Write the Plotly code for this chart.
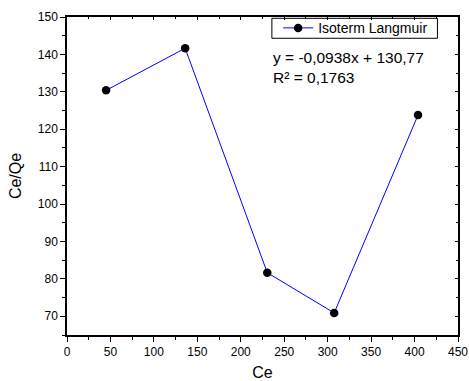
import plotly.graph_objects as go

ce = [45, 136, 230.5, 307.5, 404]
ce_qe = [130.4, 141.65, 81.65, 70.9, 123.8]
series_name = "Isoterm Langmuir"
eq_lines = ["y = -0,0938x + 130,77", "R² = 0,1763"]

fig = go.Figure()
fig.add_trace(go.Scatter(
    x=ce, y=ce_qe, mode="lines+markers", name=series_name,
    line=dict(color="#0000ff", width=1),
    marker=dict(color="black", size=8.5),
))
fig.add_trace(go.Scatter(x=[None], y=[None], xaxis="x2", yaxis="y2",
                         showlegend=False, hoverinfo="skip"))

font_family = "Liberation Sans, Arial, sans-serif"
axis_common = dict(showgrid=False, zeroline=False, showline=True,
                   linecolor="black", linewidth=1.5, ticks="outside",
                   ticklen=5, tickwidth=1, tickcolor="black", automargin=False,
                   tickfont=dict(family=font_family, size=12, color="black"))

fig.update_layout(
    width=469, height=381,
    margin=dict(l=67, r=11, t=17, b=46, autoexpand=False),
    paper_bgcolor="white", plot_bgcolor="white",
    font=dict(family=font_family, color="black"),
    xaxis=dict(range=[0, 450], dtick=50, tick0=0,
               minor=dict(dtick=25, ticks="outside", ticklen=3, tickcolor="black"),
               title=dict(text="Ce", font=dict(size=16), standoff=9),
               **axis_common),
    yaxis=dict(range=[65, 150], dtick=10, tick0=70,
               minor=dict(dtick=5, ticks="outside", ticklen=3, tickcolor="black"),
               title=dict(text="Ce/Qe", font=dict(size=16), standoff=12),
               **axis_common),
    xaxis2=dict(range=[0, 450], overlaying="x", side="top", showgrid=False,
                zeroline=False, showline=True, linecolor="black", linewidth=1.5,
                ticks="inside", ticklen=3, dtick=50, tickcolor="black",
                minor=dict(dtick=25, ticks="inside", ticklen=2, tickcolor="black"),
                showticklabels=False, automargin=False),
    yaxis2=dict(range=[65, 150], overlaying="y", side="right", showgrid=False,
                zeroline=False, showline=True, linecolor="black", linewidth=1.5,
                ticks="inside", ticklen=3, dtick=10, tick0=70, tickcolor="black",
                minor=dict(dtick=5, ticks="inside", ticklen=2, tickcolor="black"),
                showticklabels=False, automargin=False),
    legend=dict(x=0.54, y=0.9645, xanchor="left", yanchor="middle",
                borderwidth=0, bgcolor="rgba(0,0,0,0)",
                font=dict(family=font_family, size=14, color="black"),
                itemwidth=30, tracegroupgap=0),
    showlegend=True,
)

# legend frame (compact, like the original)
fig.add_shape(type="rect", xref="paper", yref="paper",
              x0=0.524, x1=0.9474, y0=0.9331, y1=0.9959,
              line=dict(color="black", width=1), fillcolor="rgba(0,0,0,0)",
              layer="above")

fig.add_annotation(xref="paper", yref="paper", x=0.522, y=0.905,
                   xanchor="left", yanchor="top", showarrow=False, align="left",
                   text="<br>".join(eq_lines),
                   font=dict(family=font_family, size=15.5, color="black"))

fig.write_html("out.html")
